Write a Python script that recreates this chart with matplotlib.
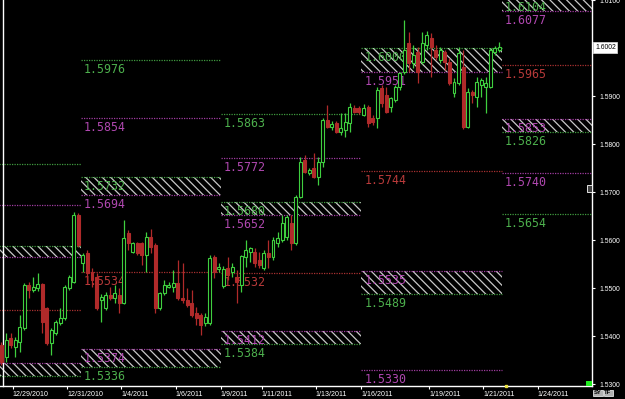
import numpy as np
import matplotlib.pyplot as plt
from matplotlib.patches import Rectangle

# 4 hour GBP/USD style candles, oldest first
opens = [1.5381, 1.5356, 1.5396, 1.5377, 1.5388, 1.5417, 1.5506, 1.5496, 1.5500, 1.5508,
         1.5458, 1.5385, 1.5406, 1.5427, 1.5438, 1.5500, 1.5513, 1.5652, 1.5552, 1.5573,
         1.5533, 1.5523, 1.5475, 1.5458, 1.5485, 1.5479, 1.5485, 1.5469, 1.5615, 1.5575,
         1.5594, 1.5594, 1.5569, 1.5606, 1.5590, 1.5458, 1.5490, 1.5502, 1.5502, 1.5510,
         1.5479, 1.5475, 1.5469, 1.5448, 1.5444, 1.5427, 1.5427, 1.5565, 1.5540, 1.5504,
         1.5542, 1.5533, 1.5523, 1.5506, 1.5565, 1.5575, 1.5575, 1.5558, 1.5542, 1.5573,
         1.5565, 1.5594, 1.5600, 1.5606, 1.5637, 1.5594, 1.5690, 1.5767, 1.5740, 1.5750,
         1.5731, 1.5763, 1.5850, 1.5837, 1.5844, 1.5825, 1.5829, 1.5844, 1.5875, 1.5875,
         1.5860, 1.5877, 1.5854, 1.5854, 1.5917, 1.5902, 1.5877, 1.5892, 1.5919, 1.5950,
         1.6010, 1.5969, 1.5992, 1.5971, 1.6006, 1.6021, 1.5996, 1.5975, 1.5992, 1.5971,
         1.5906, 1.5927, 1.5960, 1.5835, 1.5908, 1.5898, 1.5923, 1.5919, 1.5919, 1.5992,
         1.5996]
highs = [1.5388, 1.5406, 1.5406, 1.5398, 1.5444, 1.5510, 1.5513, 1.5523, 1.5531, 1.5510,
         1.5460, 1.5417, 1.5433, 1.5458, 1.5506, 1.5527, 1.5658, 1.5656, 1.5573, 1.5579,
         1.5542, 1.5531, 1.5488, 1.5492, 1.5502, 1.5506, 1.5500, 1.5642, 1.5621, 1.5596,
         1.5596, 1.5596, 1.5617, 1.5623, 1.5594, 1.5492, 1.5517, 1.5513, 1.5538, 1.5558,
         1.5552, 1.5500, 1.5496, 1.5460, 1.5448, 1.5448, 1.5569, 1.5569, 1.5552, 1.5546,
         1.5565, 1.5552, 1.5538, 1.5569, 1.5600, 1.5585, 1.5583, 1.5575, 1.5579, 1.5600,
         1.5606, 1.5617, 1.5652, 1.5652, 1.5652, 1.5694, 1.5773, 1.5777, 1.5750, 1.5781,
         1.5773, 1.5854, 1.5881, 1.5848, 1.5848, 1.5865, 1.5865, 1.5885, 1.5881, 1.5879,
         1.5883, 1.5881, 1.5860, 1.5919, 1.5923, 1.5919, 1.5898, 1.5923, 1.5950, 1.6058,
         1.6033, 1.6006, 1.6002, 1.6033, 1.6035, 1.6031, 1.6006, 1.6002, 1.5996, 1.5979,
         1.5938, 1.6002, 1.5996, 1.5917, 1.5913, 1.5940, 1.5938, 1.5940, 1.6000, 1.6004,
         1.6013]
lows = [1.5340, 1.5346, 1.5375, 1.5356, 1.5367, 1.5413, 1.5479, 1.5492, 1.5494, 1.5406,
        1.5381, 1.5360, 1.5402, 1.5423, 1.5433, 1.5496, 1.5510, 1.5585, 1.5533, 1.5510,
        1.5502, 1.5454, 1.5429, 1.5454, 1.5475, 1.5469, 1.5448, 1.5467, 1.5579, 1.5573,
        1.5569, 1.5548, 1.5533, 1.5573, 1.5448, 1.5454, 1.5485, 1.5500, 1.5492, 1.5475,
        1.5469, 1.5460, 1.5440, 1.5423, 1.5402, 1.5421, 1.5423, 1.5521, 1.5533, 1.5500,
        1.5517, 1.5523, 1.5469, 1.5492, 1.5544, 1.5554, 1.5544, 1.5542, 1.5538, 1.5542,
        1.5558, 1.5585, 1.5596, 1.5600, 1.5579, 1.5590, 1.5688, 1.5740, 1.5735, 1.5729,
        1.5715, 1.5752, 1.5833, 1.5829, 1.5823, 1.5819, 1.5815, 1.5825, 1.5865, 1.5863,
        1.5858, 1.5835, 1.5840, 1.5833, 1.5877, 1.5865, 1.5867, 1.5888, 1.5913, 1.5946,
        1.5950, 1.5958, 1.5927, 1.5967, 1.5996, 1.5940, 1.5975, 1.5969, 1.5954, 1.5923,
        1.5898, 1.5923, 1.5831, 1.5833, 1.5885, 1.5877, 1.5898, 1.5865, 1.5917, 1.5985,
        1.5992]
closes = [1.5346, 1.5392, 1.5381, 1.5392, 1.5419, 1.5506, 1.5496, 1.5502, 1.5508, 1.5429,
          1.5385, 1.5413, 1.5429, 1.5438, 1.5502, 1.5523, 1.5652, 1.5590, 1.5569, 1.5531,
          1.5517, 1.5458, 1.5481, 1.5485, 1.5479, 1.5490, 1.5469, 1.5604, 1.5594, 1.5594,
          1.5573, 1.5569, 1.5606, 1.5585, 1.5458, 1.5490, 1.5506, 1.5506, 1.5510, 1.5479,
          1.5475, 1.5465, 1.5444, 1.5438, 1.5423, 1.5440, 1.5563, 1.5533, 1.5544, 1.5540,
          1.5527, 1.5544, 1.5513, 1.5567, 1.5579, 1.5583, 1.5552, 1.5548, 1.5573, 1.5565,
          1.5600, 1.5604, 1.5635, 1.5648, 1.5594, 1.5690, 1.5763, 1.5742, 1.5746, 1.5731,
          1.5763, 1.5850, 1.5835, 1.5842, 1.5825, 1.5833, 1.5846, 1.5877, 1.5867, 1.5867,
          1.5875, 1.5844, 1.5846, 1.5913, 1.5885, 1.5867, 1.5896, 1.5919, 1.5948, 1.5996,
          1.5969, 1.5985, 1.5950, 1.6010, 1.6027, 1.6002, 1.5981, 1.5996, 1.5971, 1.5927,
          1.5929, 1.5990, 1.5835, 1.5908, 1.5902, 1.5929, 1.5933, 1.5927, 1.5996, 1.6000,
          1.6002]

# weekly level blocks (bar index where each week starts / ends)
week_start = [-1.0, 17.5, 48.5, 79.5, 110.5]
week_end = [17.5, 48.5, 79.5, 110.5, 132.0]

# single levels: week, price, kind
line_week = [0, 0, 0, 1, 1, 1, 2, 2, 2, 3, 3, 4, 4, 4]
line_price = [1.5758, 1.5674, 1.5454, 1.5976, 1.5854, 1.5534, 1.5863, 1.5772, 1.5532,
              1.5744, 1.5330, 1.5965, 1.5740, 1.5654]
line_kind = ['g', 'p', 'r', 'g', 'p', 'r', 'g', 'p', 'r', 'r', 'p', 'r', 'p', 'g']

# hatched zones: week, low, high, top kind, bottom kind
zone_week = [0, 0, 1, 1, 2, 2, 3, 3, 4, 4]
zone_lo = [1.5565, 1.5317, 1.5694, 1.5336, 1.5652, 1.5384, 1.5951, 1.5489, 1.6077, 1.5826]
zone_hi = [1.5589, 1.5344, 1.5732, 1.5374, 1.5680, 1.5412, 1.6000, 1.5535, 1.6104, 1.5853]
zone_top = ['g', 'p', 'g', 'p', 'g', 'p', 'g', 'p', 'g', 'p']
zone_bot = ['p', 'g', 'p', 'g', 'p', 'g', 'p', 'g', 'p', 'g']

price_ticks = [1.53, 1.54, 1.55, 1.56, 1.57, 1.58, 1.59, 1.61]
date_pos = [2.5, 14.5, 26.5, 38.5, 48.5, 57.5, 69.5, 79.5, 94.5, 106.5, 118.5]
date_labels = ['12/29/2010', '12/31/2010', '1/4/2011', '1/6/2011', '1/9/2011', '1/11/2011',
               '1/13/2011', '1/16/2011', '1/19/2011', '1/21/2011', '1/24/2011']

line_col = {'g': '#3f9a3f', 'p': '#a03ca0', 'r': '#a83030'}
text_col = {'g': '#4db04d', 'p': '#b048b0', 'r': '#b83a3a'}
up_col = '#3fcf3f'
dn_col = '#b02a2a'

plt.rcParams['hatch.linewidth'] = 0.9

fig = plt.figure(figsize=(6.25, 3.99), dpi=100, facecolor='black')
ax = fig.add_axes([0, 13/399, 592/625, 386/399], facecolor='black')


def label(x, y, txt, kind):
    ax.annotate(txt, xy=(x, y), xytext=(3, -3), textcoords='offset pixels',
                ha='left', va='top', fontsize=8.4, family='DejaVu Sans Mono',
                color=text_col[kind], zorder=2, annotation_clip=False)


def level(w, y, kind, with_label):
    ax.plot([week_start[w], week_end[w]], [y, y], color=line_col[kind],
            lw=0.9, ls=(0, (1, 1)), zorder=1)
    if with_label:
        label(week_start[w], y, '%.4f' % y, kind)


for w, p, k in zip(line_week, line_price, line_kind):
    level(w, p, k, w > 0)

for w, lo, hi, kt, kb in zip(zone_week, zone_lo, zone_hi, zone_top, zone_bot):
    ax.add_patch(Rectangle((week_start[w], lo), week_end[w] - week_start[w], hi - lo,
                           facecolor='none', edgecolor='#c8c8c8', hatch='\\\\\\\\',
                           lw=0, zorder=1))
    level(w, hi, kt, w > 0)
    level(w, lo, kb, w > 0)

# candles
wid = 0.66
for i, (o, h, l, c) in enumerate(zip(opens, highs, lows, closes)):
    up = c >= o
    col = up_col if up else dn_col
    ax.vlines(i, l, h, color=col, lw=0.9, zorder=3)
    bottom = min(o, c)
    height = max(abs(c - o), 0.00012)
    ax.add_patch(Rectangle((i - wid/2, bottom), wid, height,
                           facecolor='black' if up else dn_col,
                           edgecolor=col, lw=0.8, zorder=4))

ax.set_xlim(-1.5/4.525, 590.5/4.525)
ax.set_ylim(1.61006 - 386/4800, 1.61006)

# axes styling
ax.spines['top'].set_visible(False)
for s in ['left', 'right', 'bottom']:
    ax.spines[s].set_color('white')
    ax.spines[s].set_linewidth(1.0)
ax.spines['left'].set_position(('axes', 3/592))

ax.yaxis.tick_right()
ax.set_yticks(price_ticks)
ax.set_yticklabels(['%.4f' % t for t in price_ticks])
ax.tick_params(axis='y', colors='white', length=2.5, width=0.8, pad=2.5,
               labelsize=4.9, labelcolor='white')
for t in ax.get_yticklabels():
    t.set_family('Liberation Sans')

ax.set_xticks(date_pos)
ax.set_xticklabels(date_labels)
ax.tick_params(axis='x', colors='white', length=2.5, width=0.8, pad=1,
               labelsize=5.1, labelcolor='white')
for t in ax.get_xticklabels():
    t.set_horizontalalignment('left')
    t.set_family('Liberation Sans')

# current price tag
ax.annotate('%.4f' % closes[-1], xy=(1, closes[-1]), xycoords=('axes fraction', 'data'),
            xytext=(3, 0), textcoords='offset pixels', ha='left', va='center',
            fontsize=4.9, family='Liberation Sans', color='black',
            bbox=dict(boxstyle='square,pad=0.25', fc='white', ec='#d0d0d0', lw=0.6),
            annotation_clip=False)

# little widgets of the trading terminal
ax.plot([111.5], [ax.get_ylim()[0]], marker='s', ms=2, color='#e8e040', clip_on=False, zorder=6)
fig.patches.append(Rectangle((586/625, 1 - 386/399), 6/625, 5/399, transform=fig.transFigure,
                             facecolor='#22ee22', edgecolor='none'))
fig.patches.append(Rectangle((587/625, 1 - 192/399), 5/625, 7/399, transform=fig.transFigure,
                             facecolor='#404040', edgecolor='white', lw=0.6))
for x0, t in [(594, 'SY'), (604, 'TF')]:
    fig.text((x0 + 4)/625, 1 - 393/399, t, ha='center', va='center', fontsize=4.2,
             color='black', family='Liberation Sans', weight='bold',
             bbox=dict(boxstyle='square,pad=0.15', fc='#b0b0b0', ec='white', lw=0.5))

plt.savefig('out.png', dpi=100, facecolor='black')
